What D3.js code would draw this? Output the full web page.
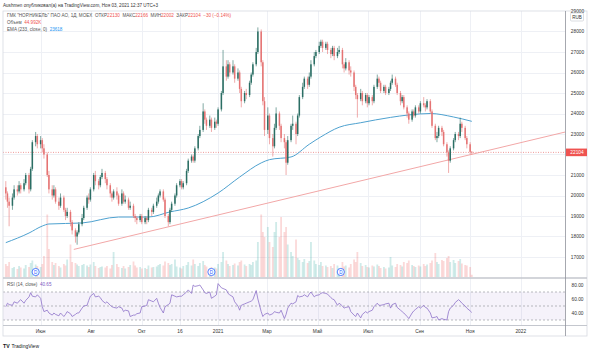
<!DOCTYPE html>
<html>
<head>
<meta charset="utf-8">
<script src="https://cdn.jsdelivr.net/npm/d3@7"></script>
<style>
  body { margin: 0; background: #fff; }
  svg { display: block; font-family: "Liberation Sans", Arial, sans-serif; }
</style>
</head>
<body>
<svg id="chart" width="590" height="351"></svg>
<script>
// GMKN daily, one candle for every second trading day (20 Apr 2020 - 3 Nov 2021)
const firstOpen = 20400;
const closes = [
  20100,19700,19500,19900,20300,20200,20500,20300,20600,21000,
  20300,21300,22600,22900,22500,22700,22300,22000,21000,20300,
  20000,20300,19700,19500,19900,19300,19000,19200,18700,18300,
  18000,18200,18600,18900,19400,19900,19800,20300,21000,20700,
  20500,20900,21100,20800,20500,20100,19900,20200,20000,19600,
  20100,19700,19800,19400,19500,19000,18900,18800,19000,18700,
  18900,18800,19300,19200,19500,19700,20000,20200,19800,19000,
  18700,19300,19600,20000,20500,20700,20400,20600,21200,21700,
  21900,21700,22300,22900,23200,24100,23700,23400,23700,23300,
  23600,23500,24200,25000,26300,25800,26400,26000,26300,25700,
  26000,25200,24600,25000,24900,25500,25900,26400,27000,28000,
  26500,24600,23200,23900,22800,22400,23300,24000,23400,22800,
  22600,21600,22700,23400,23500,23000,23900,24800,25300,25700,
  25400,25800,26400,26800,27000,27300,27500,27200,27400,27100,
  26900,27200,26800,27000,27100,26400,26200,26500,26100,26000,
  25300,24900,24700,25000,24600,24900,24500,24800,24600,25300,
  25700,25500,25100,25300,25000,25200,25500,25700,25400,25000,
  24600,24800,24300,24000,23700,24100,23900,24300,24100,24500,
  24400,24300,24600,24100,23400,22800,22900,23300,23100,22500,
  22100,21700,22300,22700,23000,22900,23500,23300,22800,22500,
  22130,22104
];
const highs = [
  20700,20200,19900,20100,20500,20500,20700,20600,20800,21100,
  21100,21400,22700,23100,23000,22900,22800,22500,22100,21200,
  20500,20500,20400,19900,20100,20000,19400,19400,19300,18800,
  18400,18300,18700,19100,19500,20000,20100,20400,21100,21200,
  20800,21000,21300,21200,20900,20600,20200,20300,20400,20100,
  20300,20200,20000,19900,19700,19600,19100,19000,19100,19100,
  19000,19000,19400,19400,19600,19900,20100,20300,20300,19900,
  19100,19400,19700,20100,20600,20800,20800,20700,21300,21800,
  22000,22000,22400,23000,23400,24500,24200,23800,23900,23800,
  23800,23700,24300,25100,27100,26600,26600,26500,26600,26400,
  26200,26100,25300,25100,25200,25600,26000,26500,27200,28200,
  28100,26600,24800,24300,24000,23000,23500,24300,24100,23500,
  23000,22700,22900,23500,23900,23600,24000,24900,25500,25800,
  25800,26000,26600,27000,27100,27500,27600,27600,27500,27500,
  27200,27300,27300,27200,27300,27200,26500,26700,26600,26300,
  26100,25400,25000,25200,25100,25000,25000,24900,24900,25400,
  25900,25800,25600,25400,25400,25300,25600,25900,25800,25500,
  25100,24900,24900,24400,24100,24200,24200,24400,24400,24600,
  24800,24500,24700,24700,24200,23500,23100,23400,23400,23200,
  22600,22200,22400,22800,23100,23100,23800,23600,23400,22900,
  22600,22166
];
const lows = [
  19800,19400,18500,19300,19800,20000,20100,20100,20200,20500,
  20100,20200,21200,22400,22300,22300,22100,21800,20900,20100,
  19800,19900,19600,19300,19400,19200,18800,18900,18500,18100,
  17700,17600,18100,18500,18800,19300,19600,19700,20200,20500,
  20300,20400,20800,20600,20300,19900,19700,19800,19800,19500,
  19500,19600,19600,19300,19300,18900,18700,18600,18700,18600,
  18600,18600,18700,19000,19100,19400,19600,19900,19700,18900,
  18500,18600,19200,19500,19900,20400,20300,20300,20500,21100,
  21600,21600,21600,22200,22800,23100,23500,23200,23300,23100,
  23200,23300,23400,24100,24900,25600,25700,25800,25900,25500,
  25600,25000,24300,24500,24700,24800,25400,25800,26300,26900,
  26300,24400,22900,23000,22500,21900,22300,23200,23200,22600,
  22300,21000,21500,22600,23200,22500,22900,23800,24700,25200,
  25200,25300,25700,26300,26700,26900,27200,27000,27100,26900,
  26700,26800,26600,26700,26900,26200,26000,26100,25900,25800,
  25100,24700,23800,24600,24400,24500,24300,24400,24400,24500,
  25200,25300,25000,25000,24900,24900,25100,25400,25300,24900,
  24400,24500,24200,23800,23500,23600,23800,23800,24000,24000,
  24300,24100,24200,24000,23300,22700,22600,22800,22900,22400,
  21900,21100,21600,22200,22600,22700,22800,23100,22700,22300,
  22000,22002
];
const volumes = [
  260,220,300,180,200,160,220,190,170,240,
  200,280,330,250,220,200,260,420,1250,560,
  300,240,280,220,190,260,230,350,650,300,
  280,250,220,240,260,230,200,250,300,220,
  180,200,210,190,220,170,240,500,260,200,
  180,220,170,200,240,310,230,190,200,170,
  180,160,230,190,200,210,240,260,230,310,
  280,240,260,350,210,190,170,220,240,300,
  230,350,260,220,280,320,240,210,180,200,
  190,170,260,300,500,330,260,220,240,270,
  230,300,330,250,220,260,240,300,330,700,
  1250,900,800,1000,700,600,900,1100,800,1200,
  900,1000,650,500,420,750,380,340,300,360,
  280,320,700,330,260,240,300,220,230,200,
  220,180,260,230,170,300,210,230,190,260,
  350,300,500,280,220,240,200,190,230,210,
  250,220,180,200,170,190,400,230,200,260,
  240,210,300,280,330,240,220,200,230,210,
  260,220,250,280,330,480,300,260,340,320,
  380,420,300,340,280,320,360,270,240,230,
  200,45
];
const rsiValues = [
  49,54,52,51,56,54,57,59,54,58,
  63,69,64,63,66,61,49,42,44,40,
  37,40,38,36,40,35,38,42,39,35,
  38,40,40,47,50,51,58,64,68,63,
  64,62,58,54,56,51,49,48,47,49,
  47,42,44,43,35,37,37,39,40,49,
  50,51,59,57,56,61,54,48,40,49,
  52,54,66,64,63,64,64,66,70,73,
  68,80,78,79,80,73,69,68,70,61,
  64,66,82,76,75,73,68,66,63,56,
  50,44,51,53,54,56,57,59,72,60,
  42,35,38,40,37,39,42,41,40,44,
  32,38,47,54,53,56,65,63,64,66,
  63,67,70,63,65,66,68,69,68,67,
  62,60,59,51,54,50,47,48,49,42,
  37,35,40,33,38,42,40,42,44,49,
  54,51,51,52,53,54,47,52,54,48,
  44,42,40,35,32,40,43,45,49,47,
  51,48,47,40,33,34,35,30,32,31,
  30,42,47,51,55,59,57,54,50,47,
  43,40.65
];
// EMA(233): [candle index, value]
const emaPoints = [
  [0,17700],[10,18170],[16,18510],[19,18610],[33,18660],[49,18950],
  [62,18950],[71,19200],[79,19390],[92,20120],[101,20900],[110,21590],
  [114,21750],[123,21880],[131,22500],[136,22860],[144,23330],[153,23550],
  [166,23810],[174,23930],[183,24000],[193,23830],[201,23618]
];
const dividendDates = ["2020-05-26", "2020-12-24", "2021-05-29"];
const trendPoints = [["2020-07-11", 17370], ["2022-02-24", 23100]];
const priceTicks = [17000,18000,19000,20000,21000,22000,23000,24000,25000,26000,27000,28000,29000];
const rsiTicks = [40, 60, 80];
const rsiLevels = [30, 50, 70];
const timeTicks = [
  ["2020-06-01","Июн"],["2020-08-01","Авг"],["2020-10-01","Окт"],["2020-11-16","16"],
  ["2021-01-01","2021"],["2021-03-01","Мар"],["2021-05-01","Май"],["2021-07-01","Июл"],
  ["2021-09-01","Сен"],["2021-11-01","Ноя"],["2022-01-01","2022"]
];

const parse = d3.timeParse("%Y-%m-%d");
const svg = d3.select("#chart");

const plotRight = 565.5;
const mainTop = 11, mainBottom = 278, rsiBottom = 325.5, axisBottom = 336;

const weekdays = d3.timeDays(new Date(2020, 3, 20), new Date(2021, 10, 4))
  .filter(d => d.getDay() !== 0 && d.getDay() !== 6);
const barDates = weekdays.filter((d, i) => i % 2 === 0);

const candles = closes.map((c, i) => ({
  date: barDates[i],
  open: i === 0 ? firstOpen : closes[i - 1],
  close: c, high: highs[i], low: lows[i], volume: volumes[i], rsi: rsiValues[i]
}));

const x = d3.scaleTime()
  .domain([parse("2020-04-13"), parse("2022-02-24")])
  .range([0, plotRight]);
const y = d3.scaleLinear().domain([16000, 29000]).range([277.5, 11]);
const yVol = d3.scaleLinear().domain([0, 1300]).range([277, 212]);
const yRsi = d3.scaleLinear().domain([0, 100]).range([341, 271]);

const upColor = "#2b6e64", downColor = "#e57373";
const lastClose = closes[closes.length - 1];

// clip paths
const defs = svg.append("defs");
defs.append("clipPath").attr("id", "clipMain")
  .append("rect").attr("x", 3).attr("y", mainTop).attr("width", plotRight - 3).attr("height", mainBottom - mainTop);
defs.append("clipPath").attr("id", "clipRsi")
  .append("rect").attr("x", 3).attr("y", mainBottom).attr("width", plotRight - 3).attr("height", rsiBottom - mainBottom);

// grid
const grid = svg.append("g");
grid.selectAll(".vgrid").data(timeTicks).join("line")
  .attr("x1", d => Math.round(x(parse(d[0]))) + 0.5).attr("x2", d => Math.round(x(parse(d[0]))) + 0.5)
  .attr("y1", mainTop).attr("y2", rsiBottom)
  .attr("stroke", "#eef0f5").attr("stroke-width", 1);
grid.selectAll(".hgrid").data(priceTicks.filter(t => t < 29000)).join("line")
  .attr("x1", 3).attr("x2", plotRight)
  .attr("y1", d => Math.round(y(d)) + 0.5).attr("y2", d => Math.round(y(d)) + 0.5)
  .attr("stroke", "#eef0f5").attr("stroke-width", 1);

// main pane
const main = svg.append("g").attr("clip-path", "url(#clipMain)");

// volume
main.selectAll(".vol").data(candles).join("rect")
  .attr("x", d => x(d.date) - 0.9).attr("width", 1.8)
  .attr("y", d => yVol(d.volume)).attr("height", d => yVol(0) - yVol(d.volume))
  .attr("fill", d => d.close >= d.open ? "rgba(38,166,154,0.22)" : "rgba(239,83,80,0.22)");

// trend line
main.append("line")
  .attr("x1", x(parse(trendPoints[0][0]))).attr("y1", y(trendPoints[0][1]))
  .attr("x2", x(parse(trendPoints[1][0]))).attr("y2", y(trendPoints[1][1]))
  .attr("stroke", "#f2a7a7").attr("stroke-width", 1);

// last price line
main.append("line")
  .attr("x1", 3).attr("x2", plotRight)
  .attr("y1", y(lastClose)).attr("y2", y(lastClose))
  .attr("stroke", "#ef9a9a").attr("stroke-width", 1).attr("stroke-dasharray", "1,1.5");

// EMA
main.append("path")
  .datum(emaPoints)
  .attr("fill", "none").attr("stroke", "#4ea1cf").attr("stroke-width", 1)
  .attr("d", d3.line().x(d => x(barDates[d[0]])).y(d => y(d[1])).curve(d3.curveMonotoneX));

// candles
const cg = main.selectAll(".candle").data(candles).join("g");
cg.append("line")
  .attr("x1", d => x(d.date)).attr("x2", d => x(d.date))
  .attr("y1", d => y(d.high)).attr("y2", d => y(d.low))
  .attr("stroke", d => d.close >= d.open ? upColor : downColor).attr("stroke-width", 0.6);
cg.append("rect")
  .attr("x", d => x(d.date) - 0.75).attr("width", 1.5)
  .attr("y", d => y(Math.max(d.open, d.close)))
  .attr("height", d => Math.max(0.6, Math.abs(y(d.open) - y(d.close))))
  .attr("fill", d => d.close >= d.open ? upColor : downColor);

// dividends
const div = svg.selectAll(".div").data(dividendDates).join("g")
  .attr("transform", d => `translate(${x(parse(d))},272)`);
div.append("circle").attr("r", 3.6).attr("fill", "#fff").attr("stroke", "#2962ff").attr("stroke-width", 0.8);
div.append("text").text("D").attr("text-anchor", "middle").attr("y", 1.7)
  .attr("font-size", 4.6).attr("fill", "#2962ff");

// RSI pane
const rsiG = svg.append("g").attr("clip-path", "url(#clipRsi)");
rsiG.append("rect")
  .attr("x", 3).attr("width", plotRight - 3)
  .attr("y", yRsi(70)).attr("height", yRsi(30) - yRsi(70))
  .attr("fill", "rgba(126,87,194,0.08)");
rsiG.selectAll(".lvl").data(rsiLevels).join("line")
  .attr("x1", 3).attr("x2", plotRight)
  .attr("y1", d => yRsi(d)).attr("y2", d => yRsi(d))
  .attr("stroke", "#8a8d96").attr("stroke-width", 0.6).attr("stroke-dasharray", "2,2");
rsiG.append("path").datum(candles)
  .attr("fill", "none").attr("stroke", "#8e72c9").attr("stroke-width", 0.8)
  .attr("d", d3.line().x(d => x(d.date)).y(d => yRsi(d.rsi)));

// frame and separators
svg.append("rect").attr("x", 3).attr("y", mainTop).attr("width", 584).attr("height", axisBottom - mainTop)
  .attr("fill", "none").attr("stroke", "#d6d9e0").attr("stroke-width", 0.8);
svg.append("line").attr("x1", 3).attr("x2", 587).attr("y1", mainBottom).attr("y2", mainBottom)
  .attr("stroke", "#c4c7ce").attr("stroke-width", 1.5);
svg.append("line").attr("x1", 3).attr("x2", 587).attr("y1", rsiBottom).attr("y2", rsiBottom)
  .attr("stroke", "#c4c7ce").attr("stroke-width", 1.2);
svg.append("line").attr("x1", plotRight).attr("x2", plotRight).attr("y1", mainTop).attr("y2", axisBottom)
  .attr("stroke", "#8f929b").attr("stroke-width", 0.8);

// price axis (the tick hidden under the last-price tag is left out, as in TradingView)
const axisFont = 4.8;
svg.selectAll(".ptick").data(priceTicks.filter(t => Math.abs(y(t) - y(lastClose)) > 7)).join("text")
  .attr("x", 577.5).attr("y", d => y(d) + 1.7)
  .attr("text-anchor", "middle").attr("font-size", axisFont).attr("fill", "#333")
  .text(d => d);
svg.append("rect").attr("x", 570.5).attr("y", 13).attr("width", 13).attr("height", 8)
  .attr("fill", "#fff").attr("stroke", "#c4c7ce").attr("stroke-width", 0.6).attr("rx", 1);
svg.append("text").attr("x", 577).attr("y", 18.8).attr("text-anchor", "middle")
  .attr("font-size", 4.6).attr("fill", "#333").text("RUB");
svg.append("rect").attr("x", plotRight + 0.5).attr("y", y(lastClose) - 3.8).attr("width", 21).attr("height", 7.6)
  .attr("fill", "#ef5350");
svg.append("text").attr("x", 577).attr("y", y(lastClose) + 1.7).attr("text-anchor", "middle")
  .attr("font-size", axisFont).attr("fill", "#fff").text(lastClose);

// rsi axis
svg.selectAll(".rtick").data(rsiTicks).join("text")
  .attr("x", 577.5).attr("y", d => yRsi(d) + 1.7)
  .attr("text-anchor", "middle").attr("font-size", axisFont).attr("fill", "#333")
  .text(d => d.toFixed(2));

// time axis
svg.selectAll(".ttick").data(timeTicks).join("text")
  .attr("x", d => x(parse(d[0]))).attr("y", 332.5)
  .attr("text-anchor", "middle").attr("font-size", axisFont).attr("fill", "#333")
  .text(d => d[1]);

// header and legends
const small = 4.6;
svg.append("text").attr("x", 3).attr("y", 6.5).attr("font-size", small).attr("fill", "#333")
  .text("Aushmen опубликовал(а) на TradingView.com, Ноя 03, 2021 12:37 UTC+3");

const red = "#ef5350", gray = "#555";
const l1 = svg.append("text").attr("x", 7).attr("y", 16.5).attr("font-size", small).attr("fill", gray)
  .attr("xml:space", "preserve");
[["ГМК \"НОР.НИКЕЛЬ\" ПАО АО, 1Д, MOEX  ", gray], ["ОТКР", gray], ["22130", red], ["  МАКС", gray], ["22166", red],
 ["  МИН", gray], ["22002", red], ["  ЗАКР", gray], ["22104", red], ["  −30 (−0.14%)", red]]
  .forEach(p => l1.append("tspan").attr("fill", p[1]).text(p[0]));

const l2 = svg.append("text").attr("x", 7).attr("y", 23.5).attr("font-size", small).attr("xml:space", "preserve");
l2.append("tspan").attr("fill", gray).text("Объем  ");
l2.append("tspan").attr("fill", red).text("44.992K");

const l3 = svg.append("text").attr("x", 7).attr("y", 30.5).attr("font-size", small).attr("xml:space", "preserve");
l3.append("tspan").attr("fill", gray).text("EMA (233, close, 0)  ");
l3.append("tspan").attr("fill", "#2196f3").text("23618");

const l4 = svg.append("text").attr("x", 7).attr("y", 286).attr("font-size", small).attr("xml:space", "preserve");
l4.append("tspan").attr("fill", gray).text("RSI (14, close)  ");
l4.append("tspan").attr("fill", "#7e57c2").text("40.65");

// logo
svg.append("text").attr("x", 3).attr("y", 347.5).attr("font-size", 5.2).attr("font-weight", "bold")
  .attr("fill", "#131722").text("TV");
svg.append("text").attr("x", 11.5).attr("y", 347.5).attr("font-size", 5).attr("fill", "#131722")
  .text("TradingView");
</script>
</body>
</html>
